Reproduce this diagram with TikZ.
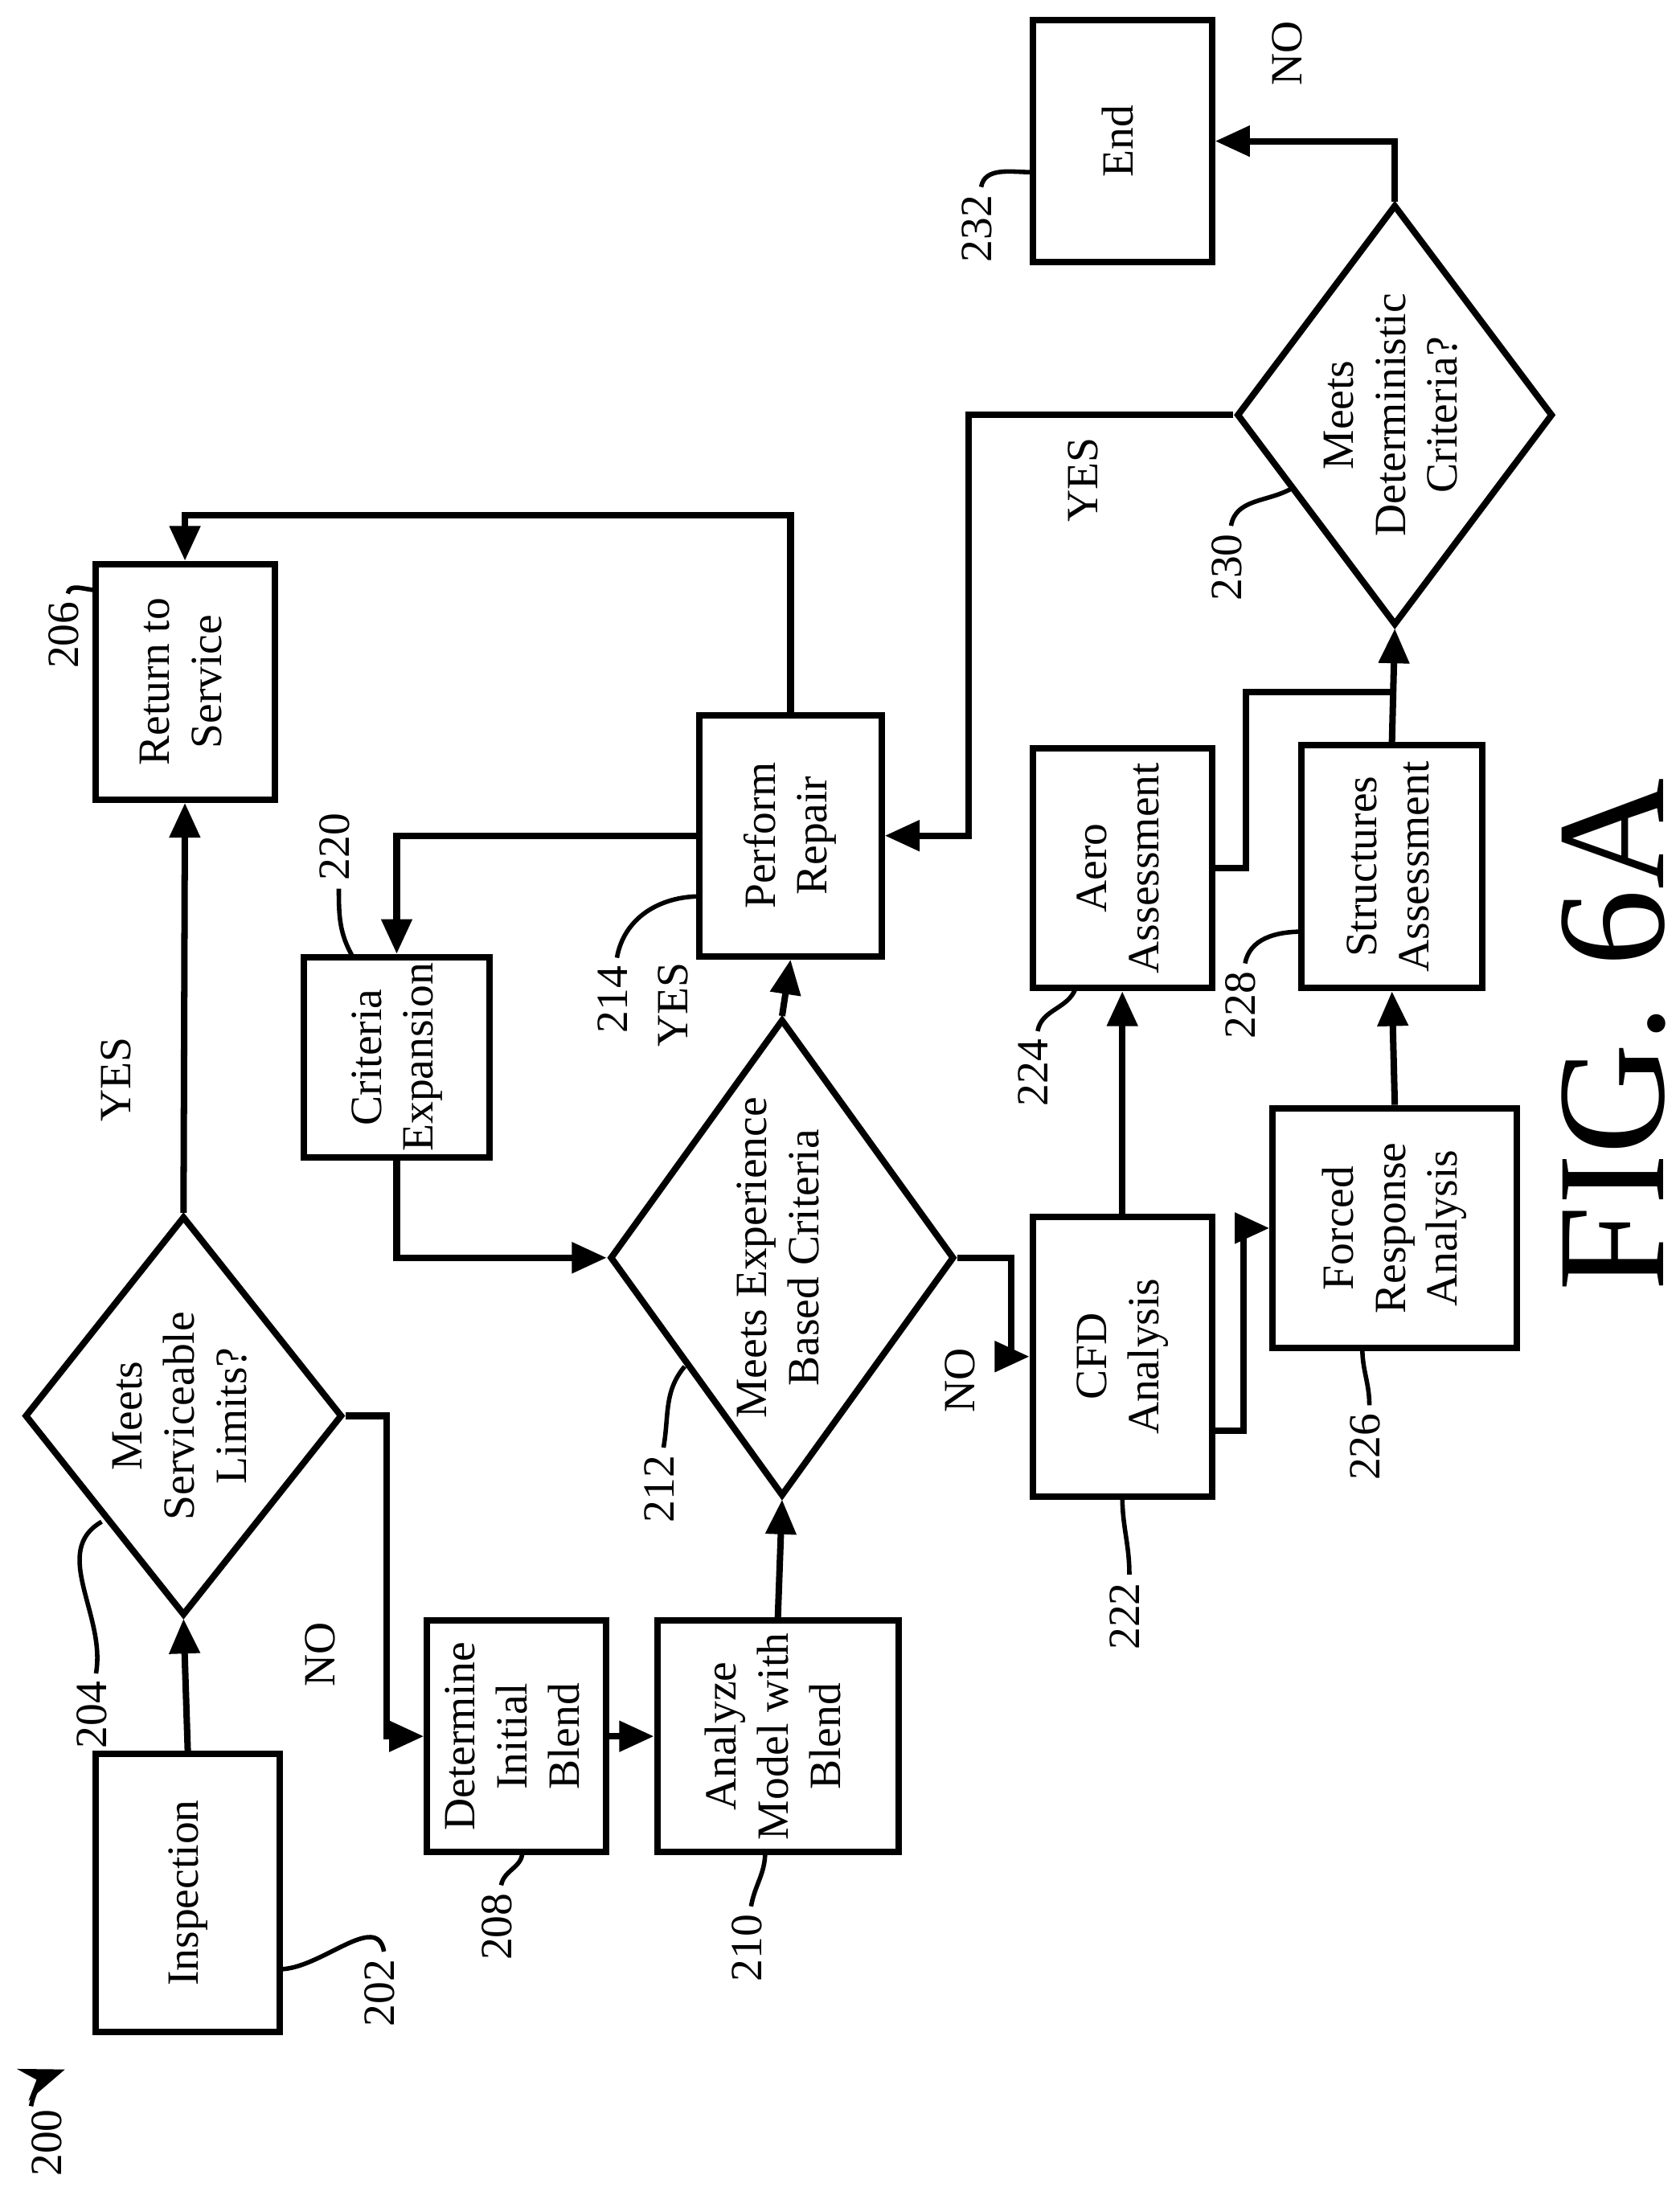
\documentclass[tikz,border=0pt]{standalone}
\usepackage{fontspec}
\setmainfont{Liberation Serif}
\usetikzlibrary{arrows.meta, positioning, shapes.geometric}

\newcommand{\rt}[1]{\rotatebox{90}{\begin{tabular}{@{}c@{}}#1\end{tabular}}}

\begin{document}
\begin{tikzpicture}[x=0.1mm, y=-0.1mm, line width=1.3pt,
  every node/.style={font=\fontsize{9}{10.5}\selectfont},
  blk/.style={draw, inner sep=0pt},
  dia/.style={draw, diamond, inner sep=0pt},
  lab/.style={inner sep=1pt},
  arr/.style={-{Triangle[length=7pt,width=6pt]}},
  lead/.style={line width=0.9pt}]
  \useasboundingbox (0,0) rectangle (1190,1567);

  % boxes
  \node[blk, minimum width=13mm, minimum height=19.7mm] (inspect) at (133,1341) {\rt{Inspection}};
  \node[blk, minimum width=12.7mm, minimum height=16.7mm] (rts) at (131,483) {\rt{Return to\\Service}};
  \node[blk, minimum width=12.7mm, minimum height=16.4mm] (blend) at (366,1230) {\rt{Determine\\Initial\\Blend}};
  \node[blk, minimum width=17.1mm, minimum height=16.4mm] (model) at (551,1230) {\rt{Analyze\\Model with\\Blend}};
  \node[blk, minimum width=13.1mm, minimum height=14.2mm] (expand) at (281,749) {\rt{Criteria\\Expansion}};
  \node[blk, minimum width=12.9mm, minimum height=17.1mm] (repair) at (560,592) {\rt{Perform\\Repair}};
  \node[blk, minimum width=12.7mm, minimum height=19.8mm] (cfd) at (795,961) {\rt{CFD\\Analysis}};
  \node[blk, minimum width=12.7mm, minimum height=17mm] (aero) at (795,615) {\rt{Aero\\Assessment}};
  \node[blk, minimum width=17.3mm, minimum height=17mm] (forced) at (988,870) {\rt{Forced\\Response\\Analysis}};
  \node[blk, minimum width=12.8mm, minimum height=17.2mm] (struct) at (986,614) {\rt{Structures\\Assessment}};
  \node[blk, minimum width=12.7mm, minimum height=17.1mm] (end) at (795,100) {\rt{End}};

  % decisions
  \node[dia, minimum width=22.5mm, minimum height=28.3mm] (limits) at (130,1003) {};
  \node at (limits.center) {\rt{Meets\\Serviceable\\Limits?}};
  \node[dia, minimum width=24.4mm, minimum height=33.8mm] (exper) at (554,891) {};
  \node at (exper.center) {\rt{Meets Experience\\Based Criteria}};
  \node[dia, minimum width=22.4mm, minimum height=29.8mm] (determ) at (988,294) {};
  \node at (determ.center) {\rt{Meets\\Deterministic\\Criteria?}};

  % connectors
  \draw[arr] (inspect.north) -- (limits.south);
  \draw[arr] (limits.north) -- (rts.south);
  \draw[arr] (limits.east) -- ++(29,0) |- (blend.west);
  \draw[arr] (blend.east) -- (model.west);
  \draw[arr] (model.north) -- (exper.south);
  \draw[arr] (exper.north) -- (repair.south);
  \draw[arr] (exper.east) -- ++(38,0) |- (cfd.west);
  \draw[arr] (expand.south) |- (exper.west);
  \draw[arr] (repair.west) -| (expand.north);
  \draw[arr] (repair.north) |- (560,365) -| (rts.north);
  \draw[arr] (cfd.north) -- (aero.south);
  \draw[arr] ([yshift=-15]cfd.east) -- ++(20,0) |- (forced.west);
  \draw[arr] (forced.north) -- (struct.south);
  \draw[arr] (struct.north) -- (determ.south);
  \draw (aero.east) -- ++(22,0) |- (988,490);
  \draw[arr] (determ.west) -- (686,294) |- (repair.east);
  \draw[arr] (determ.north) |- (end.east);

  % branch labels
  \node[lab] (y1) at (85,765) {\rt{YES}};
  \node[lab] (n1) at (230,1172) {\rt{NO}};
  \node[lab] (y2) at (480,712) {\rt{YES}};
  \node[lab] (n2) at (683,978) {\rt{NO}};
  \node[lab] (y3) at (770,340) {\rt{YES}};
  \node[lab] (n3) at (915,38) {\rt{NO}};

  % reference numerals
  \node[lab] (r200) at (36,1518) {\rt{200}};
  \coordinate (a200) at (22,1492);
  \draw[lead, -{Stealth[length=9pt]}] (a200) to[out=80,in=200] (46,1466);
  \node[lab] (r202) at (272,1412) {\rt{202}};
  \draw[lead] (r202.north) to[out=100,in=0] (198,1395);
  \node[lab] (r204) at (68,1215) {\rt{204}};
  \draw[lead] (r204.north) to[out=80,in=210] (72,1078);
  \node[lab] (r206) at (48,450) {\rt{206}};
  \draw[lead] (r206.north) to[out=80,in=180] (68,418);
  \node[lab] (r208) at (355,1365) {\rt{208}};
  \draw[lead] (r208.north) to[out=80,in=270] (370,1312);
  \node[lab] (r210) at (532,1380) {\rt{210}};
  \draw[lead] (r210.north) to[out=80,in=270] (542,1312);
  \node[lab] (r212) at (470,1055) {\rt{212}};
  \draw[lead] (r212.north) to[out=80,in=230] (485,968);
  \node[lab] (r214) at (437,708) {\rt{214}};
  \draw[lead] (r214.north) to[out=80,in=180] (496,635);
  \node[lab] (r220) at (240,600) {\rt{220}};
  \draw[lead] (r220.south) to[out=270,in=120] (250,678);
  \node[lab] (r222) at (800,1145) {\rt{222}};
  \draw[lead] (r222.north) to[out=90,in=270] (795,1060);
  \node[lab] (r224) at (735,760) {\rt{224}};
  \draw[lead] (r224.north) to[out=80,in=250] (762,700);
  \node[lab] (r226) at (970,1025) {\rt{226}};
  \draw[lead] (r226.north) to[out=90,in=270] (965,955);
  \node[lab] (r228) at (882,712) {\rt{228}};
  \draw[lead] (r228.north) to[out=80,in=180] (922,660);
  \node[lab] (r230) at (872,402) {\rt{230}};
  \draw[lead] (r230.north) to[out=80,in=210] (915,346);
  \node[lab] (r232) at (695,162) {\rt{232}};
  \draw[lead] (r232.north) to[out=80,in=180] (731,122);

  \node[font=\fontsize{31}{33}\selectfont] (fig) at (1143,733) {\rotatebox{90}{FIG. 6A}};
\end{tikzpicture}
\end{document}
